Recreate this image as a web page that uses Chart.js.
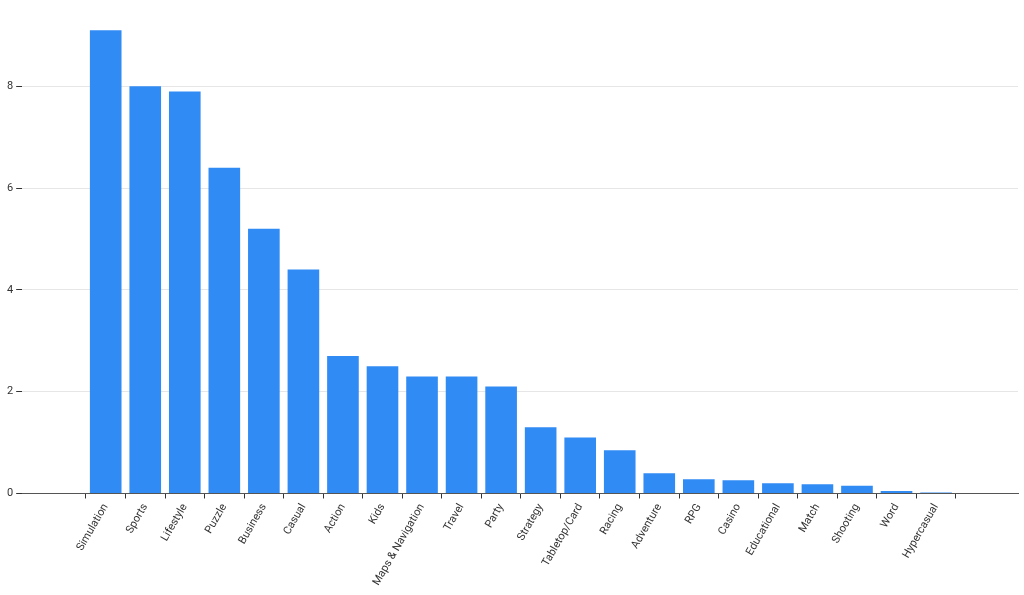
<!DOCTYPE html>
<html><head><meta charset="utf-8">
<script src="https://cdn.jsdelivr.net/npm/chart.js@4/dist/chart.umd.min.js"></script>
<style>html,body{margin:0;background:#fff}#wrap{width:1024px;height:595px}</style>
</head><body><div id="wrap"><canvas id="c"></canvas></div>
<script>
var categories = ['Simulation','Sports','Lifestyle','Puzzle','Business','Casual','Action','Kids','Maps & Navigation','Travel','Party','Strategy','Tabletop/Card','Racing','Adventure','RPG','Casino','Educational','Match','Shooting','Word','Hypercasual'];
var values = [9.1,8.0,7.9,6.4,5.2,4.4,2.7,2.5,2.3,2.3,2.1,1.3,1.1,0.85,0.4,0.28,0.26,0.2,0.18,0.15,0.05,0.02];
var yTicks = [0,2,4,6,8];

Chart.defaults.font.family = 'Roboto, sans-serif';
Chart.defaults.font.size = 11;
Chart.defaults.color = '#333';

new Chart(document.getElementById('c'), {
  type: 'bar',
  data: {
    datasets: [{
      data: values.map(function (v, i) { return {x: i, y: v}; }),
      backgroundColor: '#318bf5',
      barPercentage: 0.8,
      categoryPercentage: 1
    }]
  },
  options: {
    responsive: true,
    maintainAspectRatio: false,
    animation: false,
    layout: {padding: {top: 10, right: 6, left: 4, bottom: 4}},
    plugins: {legend: {display: false}, tooltip: {enabled: false}},
    scales: {
      x: {
        type: 'linear',
        min: -1.54,
        max: 22.5,
        afterBuildTicks: function (axis) {
          axis.ticks = categories.map(function (c, i) { return {value: i}; });
        },
        ticks: {
          autoSkip: false,
          maxRotation: 60,
          minRotation: 60,
          callback: function (v) { return categories[v]; }
        },
        grid: {display: true, drawOnChartArea: false, tickLength: 5, color: '#333'},
        border: {color: '#555'}
      },
      y: {
        min: 0,
        max: 9.5,
        afterBuildTicks: function (axis) {
          axis.ticks = yTicks.map(function (v) { return {value: v}; });
        },
        grid: {color: '#e6e6e6', tickColor: '#333', tickLength: 6},
        border: {display: false}
      }
    }
  }
});
</script></body></html>
